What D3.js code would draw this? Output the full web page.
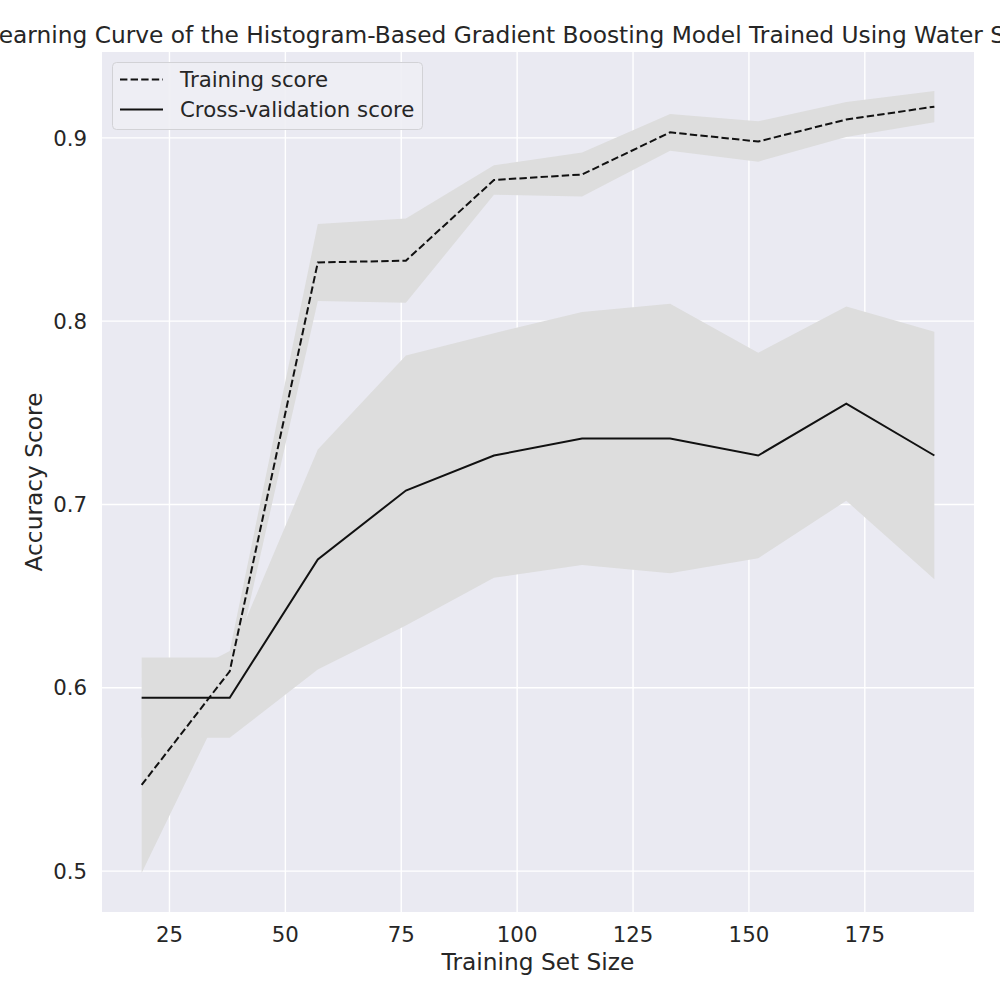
<!DOCTYPE html>
<html>
<head>
<meta charset="utf-8">
<script src="https://cdn.jsdelivr.net/npm/d3@7"></script>
<style>
  body { margin: 0; background: #fff; }
  svg { display: block; font-family: "DejaVu Sans", sans-serif; }
</style>
</head>
<body>
<svg id="chart" width="1000" height="1000"></svg>
<script>
// learning curve values
const trainSizes = [19, 38, 57, 76, 95, 114, 133, 152, 171, 190];
const trainMean = [0.547, 0.609, 0.832, 0.833, 0.877, 0.880, 0.903, 0.898, 0.910, 0.917];
const trainStd = [0.048, 0.011, 0.021, 0.023, 0.008, 0.012, 0.010, 0.011, 0.0095, 0.0085];
const cvMean = [0.5946, 0.5946, 0.670, 0.7076, 0.7267, 0.736, 0.736, 0.7267, 0.755, 0.7267];
const cvStd = [0.0219, 0.0219, 0.060, 0.0736, 0.0667, 0.069, 0.0735, 0.056, 0.053, 0.0675];
const xTicks = [25, 50, 75, 100, 125, 150, 175];
const yTicks = [0.5, 0.6, 0.7, 0.8, 0.9];

const svg = d3.select("#chart");
const plotL = 102, plotR = 974, plotT = 52, plotB = 912;
const dash = "7.4,3.2";

// matplotlib style 5% margins
const xr = d3.extent(trainSizes);
const xpad = (xr[1] - xr[0]) * 0.05;
const x = d3.scaleLinear().domain([xr[0] - xpad, xr[1] + xpad]).range([plotL, plotR]);

const allLo = trainMean.map((m, i) => m - trainStd[i]).concat(cvMean.map((m, i) => m - cvStd[i]));
const allHi = trainMean.map((m, i) => m + trainStd[i]).concat(cvMean.map((m, i) => m + cvStd[i]));
const ylo = d3.min(allLo), yhi = d3.max(allHi);
const ypad = (yhi - ylo) * 0.05;
const y = d3.scaleLinear().domain([ylo - ypad, yhi + ypad]).range([plotB, plotT]);

// axes background
svg.append("rect")
    .attr("x", plotL).attr("y", plotT)
    .attr("width", plotR - plotL).attr("height", plotB - plotT)
    .attr("fill", "#eaeaf2");

// grid
svg.append("g").selectAll("line").data(xTicks).enter().append("line")
    .attr("x1", d => x(d)).attr("x2", d => x(d))
    .attr("y1", plotT).attr("y2", plotB)
    .attr("stroke", "#fff").attr("stroke-width", 1.4);
svg.append("g").selectAll("line").data(yTicks).enter().append("line")
    .attr("x1", plotL).attr("x2", plotR)
    .attr("y1", d => y(d)).attr("y2", d => y(d))
    .attr("stroke", "#fff").attr("stroke-width", 1.4);

// std bands
const band = (mean, std) => d3.area()
    .x((d, i) => x(trainSizes[i]))
    .y0((d, i) => y(mean[i] - std[i]))
    .y1((d, i) => y(mean[i] + std[i]));

svg.append("path").datum(trainSizes)
    .attr("d", band(trainMean, trainStd))
    .attr("fill", "#dddddd");
svg.append("path").datum(trainSizes)
    .attr("d", band(cvMean, cvStd))
    .attr("fill", "#dddddd");

// mean lines
const line = (vals) => d3.line()
    .x((d, i) => x(trainSizes[i]))
    .y((d, i) => y(vals[i]));

svg.append("path").datum(trainSizes)
    .attr("d", line(trainMean))
    .attr("fill", "none").attr("stroke", "#111")
    .attr("stroke-width", 2).attr("stroke-dasharray", dash);
svg.append("path").datum(trainSizes)
    .attr("d", line(cvMean))
    .attr("fill", "none").attr("stroke", "#111")
    .attr("stroke-width", 2);

// tick labels
svg.append("g").selectAll("text").data(xTicks).enter().append("text")
    .attr("x", d => x(d)).attr("y", 942)
    .attr("text-anchor", "middle")
    .attr("font-size", "21.3px").attr("fill", "#262626")
    .text(d => d);
svg.append("g").selectAll("text").data(yTicks).enter().append("text")
    .attr("x", 87).attr("y", d => y(d))
    .attr("dy", "0.36em")
    .attr("text-anchor", "end")
    .attr("font-size", "21.3px").attr("fill", "#262626")
    .text(d => d.toFixed(1));

// axis labels and title
svg.append("text")
    .attr("x", (plotL + plotR) / 2).attr("y", 970)
    .attr("text-anchor", "middle")
    .attr("font-size", "23.3px").attr("fill", "#262626")
    .text("Training Set Size");
svg.append("text")
    .attr("transform", `translate(42,${(plotT + plotB) / 2}) rotate(-90)`)
    .attr("text-anchor", "middle")
    .attr("font-size", "23.3px").attr("fill", "#262626")
    .text("Accuracy Score");
svg.append("text")
    .attr("x", (plotL + plotR) / 2).attr("y", 43)
    .attr("text-anchor", "middle")
    .attr("font-size", "23.3px").attr("fill", "#262626")
    .text("Learning Curve of the Histogram-Based Gradient Boosting Model Trained Using Water Samples");

// legend
const lg = svg.append("g");
lg.append("rect")
    .attr("x", 112.5).attr("y", 62.5)
    .attr("width", 310).attr("height", 67)
    .attr("rx", 4)
    .attr("fill", "#eeeef4").attr("fill-opacity", 0.9)
    .attr("stroke", "#d2d2d6");
const entries = [
    { label: "Training score", dash: dash },
    { label: "Cross-validation score", dash: null }
];
entries.forEach((e, i) => {
    const cy = 79.5 + i * 30;
    lg.append("line")
        .attr("x1", 120).attr("x2", 163)
        .attr("y1", cy).attr("y2", cy)
        .attr("stroke", "#111").attr("stroke-width", 2)
        .attr("stroke-dasharray", e.dash);
    lg.append("text")
        .attr("x", 180).attr("y", cy).attr("dy", "0.36em")
        .attr("font-size", "21.3px").attr("fill", "#262626")
        .text(e.label);
});
</script>
</body>
</html>
